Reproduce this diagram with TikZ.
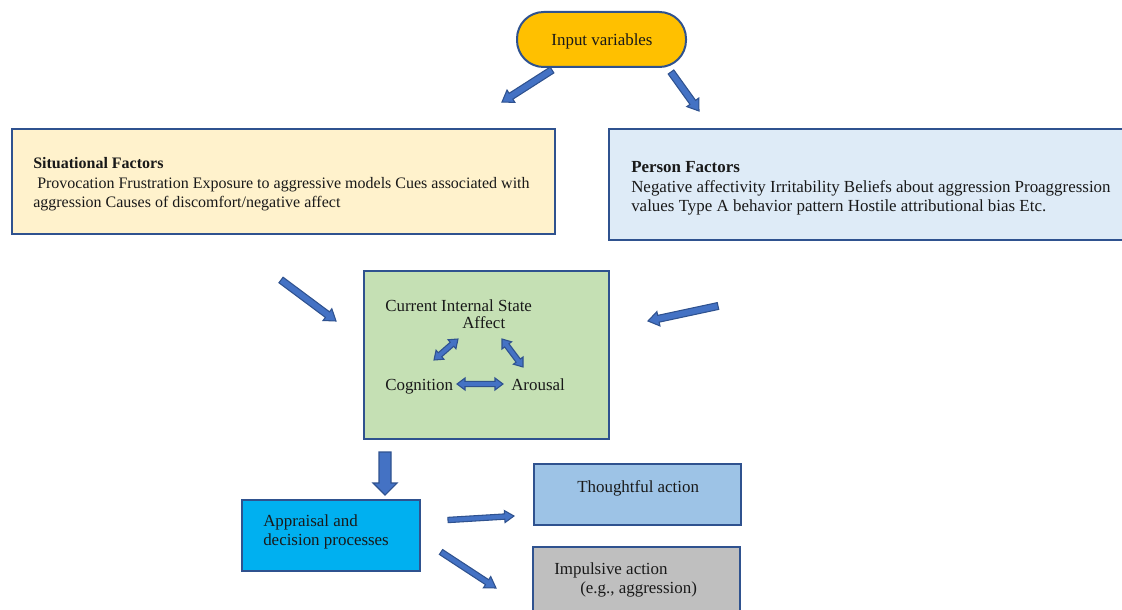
\documentclass[tikz,border=0pt]{standalone}
\usepackage{fontspec}
\setmainfont{Liberation Serif}
\usetikzlibrary{calc,fit}
\definecolor{bord}{HTML}{2F528F}
\definecolor{afill}{HTML}{4472C4}
\definecolor{inputfill}{HTML}{FFC000}
\definecolor{sitfill}{HTML}{FFF2CC}
\definecolor{perfill}{HTML}{DEEBF7}
\definecolor{curfill}{HTML}{C5E0B4}
\definecolor{appfill}{HTML}{00B0F0}
\definecolor{thofill}{HTML}{9DC3E6}
\definecolor{impfill}{HTML}{BFBFBF}
% single block arrow: from, to, shaft half width, head half width, head length
\newcommand{\barr}[5]{%
  \coordinate (hb) at ($(#2)!#5!(#1)$);
  \filldraw[arr] ($(#1)!#3!90:(#2)$) -- ($(hb)!#3!90:(#2)$) -- ($(hb)!#4!90:(#2)$) -- (#2)
    -- ($(hb)!#4!-90:(#2)$) -- ($(hb)!#3!-90:(#2)$) -- ($(#1)!#3!-90:(#2)$) -- cycle;}
% double block arrow
\newcommand{\dbarr}[5]{%
  \coordinate (ha) at ($(#1)!#5!(#2)$);
  \coordinate (hb) at ($(#2)!#5!(#1)$);
  \filldraw[arr] (#1) -- ($(ha)!#4!90:(#2)$) -- ($(ha)!#3!90:(#2)$) -- ($(hb)!#3!90:(#2)$)
    -- ($(hb)!#4!90:(#2)$) -- (#2) -- ($(hb)!#4!-90:(#2)$) -- ($(hb)!#3!-90:(#2)$)
    -- ($(ha)!#3!-90:(#2)$) -- ($(ha)!#4!-90:(#2)$) -- cycle;}
\begin{document}
\begin{tikzpicture}[x=0.75pt,y=-0.75pt,
  box/.style={draw=bord,line width=1.5pt,inner sep=0pt},
  txt/.style={anchor=base west,inner sep=0pt,font=\fontsize{12.7pt}{15pt}\selectfont,text=black!90},
  stxt/.style={txt,font=\fontsize{12pt}{14pt}\selectfont},
  arr/.style={draw=bord,fill=afill,line width=0.8pt,line join=miter}]
\useasboundingbox (0,0) rectangle (1122,610);
\clip (0,0) rectangle (1122,610);
% box corners
\coordinate (in1) at (517,12);   \coordinate (in2) at (686,67);
\coordinate (si1) at (12,129);   \coordinate (si2) at (555,234);
\coordinate (pe1) at (609,129);  \coordinate (pe2) at (1140,240);
\coordinate (cu1) at (364,271);  \coordinate (cu2) at (609,439);
\coordinate (ap1) at (242,500);  \coordinate (ap2) at (420,571);
\coordinate (th1) at (534,464);  \coordinate (th2) at (741,525);
\coordinate (im1) at (533,547);  \coordinate (im2) at (740,630);
% boxes
\node[box,fill=inputfill,rounded corners=20pt,fit=(in1)(in2)] (input) {};
\node[box,fill=sitfill,fit=(si1)(si2)] (sit) {};
\node[box,fill=perfill,fit=(pe1)(pe2)] (per) {};
\node[box,fill=curfill,fit=(cu1)(cu2)] (cur) {};
\node[box,fill=appfill,fit=(ap1)(ap2)] (app) {};
\node[box,fill=thofill,fit=(th1)(th2)] (tho) {};
\node[box,fill=impfill,fit=(im1)(im2)] (imp) {};
% texts
\node[txt,anchor=base] (tin) at (602,46) {Input variables};
\node[stxt] (ts1) at (33,169) {\textbf{Situational Factors}};
\node[stxt] (ts2) at (33,189) {\ Provocation Frustration Exposure to aggressive models Cues associated with};
\node[stxt] (ts3) at (33,207) {aggression Causes of discomfort/negative affect};
\node[txt] (tp1) at (631,172) {\textbf{Person Factors}};
\node[txt] (tp2) at (631,192) {Negative affectivity Irritability Beliefs about aggression Proaggression};
\node[txt] (tp3) at (631,211) {values Type A behavior pattern Hostile attributional bias Etc.};
\node[txt] (tc1) at (385,311) {Current Internal State};
\node[txt] (tc2) at (462,328) {Affect};
\node[txt] (tc3) at (385,390) {Cognition};
\node[txt] (tc4) at (511,390) {Arousal};
\node[txt] (ta1) at (263,526) {Appraisal and};
\node[txt] (ta2) at (263,545) {decision processes};
\node[txt] (tt1) at (577,492) {Thoughtful action};
\node[txt] (ti1) at (554,574) {Impulsive action};
\node[txt] (ti2) at (580,593) {(e.g., aggression)};
% arrow end points
\coordinate (a1s) at (552,70);  \coordinate (a1e) at (502,102);
\coordinate (a2s) at (671,72);  \coordinate (a2e) at (699,111);
\coordinate (a3s) at (281,280); \coordinate (a3e) at (336,321);
\coordinate (a4s) at (718,306); \coordinate (a4e) at (648,321);
\coordinate (a5s) at (385,452); \coordinate (a5e) at (385,495);
\coordinate (a6s) at (448,520); \coordinate (a6e) at (514,516);
\coordinate (a7s) at (441,552); \coordinate (a7e) at (496,588);
\coordinate (d1s) at (434,360); \coordinate (d1e) at (458,339);
\coordinate (d2s) at (502,339); \coordinate (d2e) at (523,367);
\coordinate (d3s) at (457,384); \coordinate (d3e) at (503,384);
% arrows
\barr{a1s}{a1e}{2.6pt}{5.5pt}{8pt}
\barr{a2s}{a2e}{2.6pt}{5.5pt}{8pt}
\barr{a3s}{a3e}{2.6pt}{5.5pt}{8pt}
\barr{a4s}{a4e}{2.6pt}{5.5pt}{8pt}
\barr{a5s}{a5e}{4.5pt}{9pt}{9pt}
\barr{a6s}{a6e}{2pt}{4.5pt}{7pt}
\barr{a7s}{a7e}{2.2pt}{5pt}{8pt}
\dbarr{d1s}{d1e}{2pt}{4.5pt}{6pt}
\dbarr{d2s}{d2e}{2pt}{4.5pt}{6pt}
\dbarr{d3s}{d3e}{2pt}{4.5pt}{6pt}
\end{tikzpicture}
\end{document}
